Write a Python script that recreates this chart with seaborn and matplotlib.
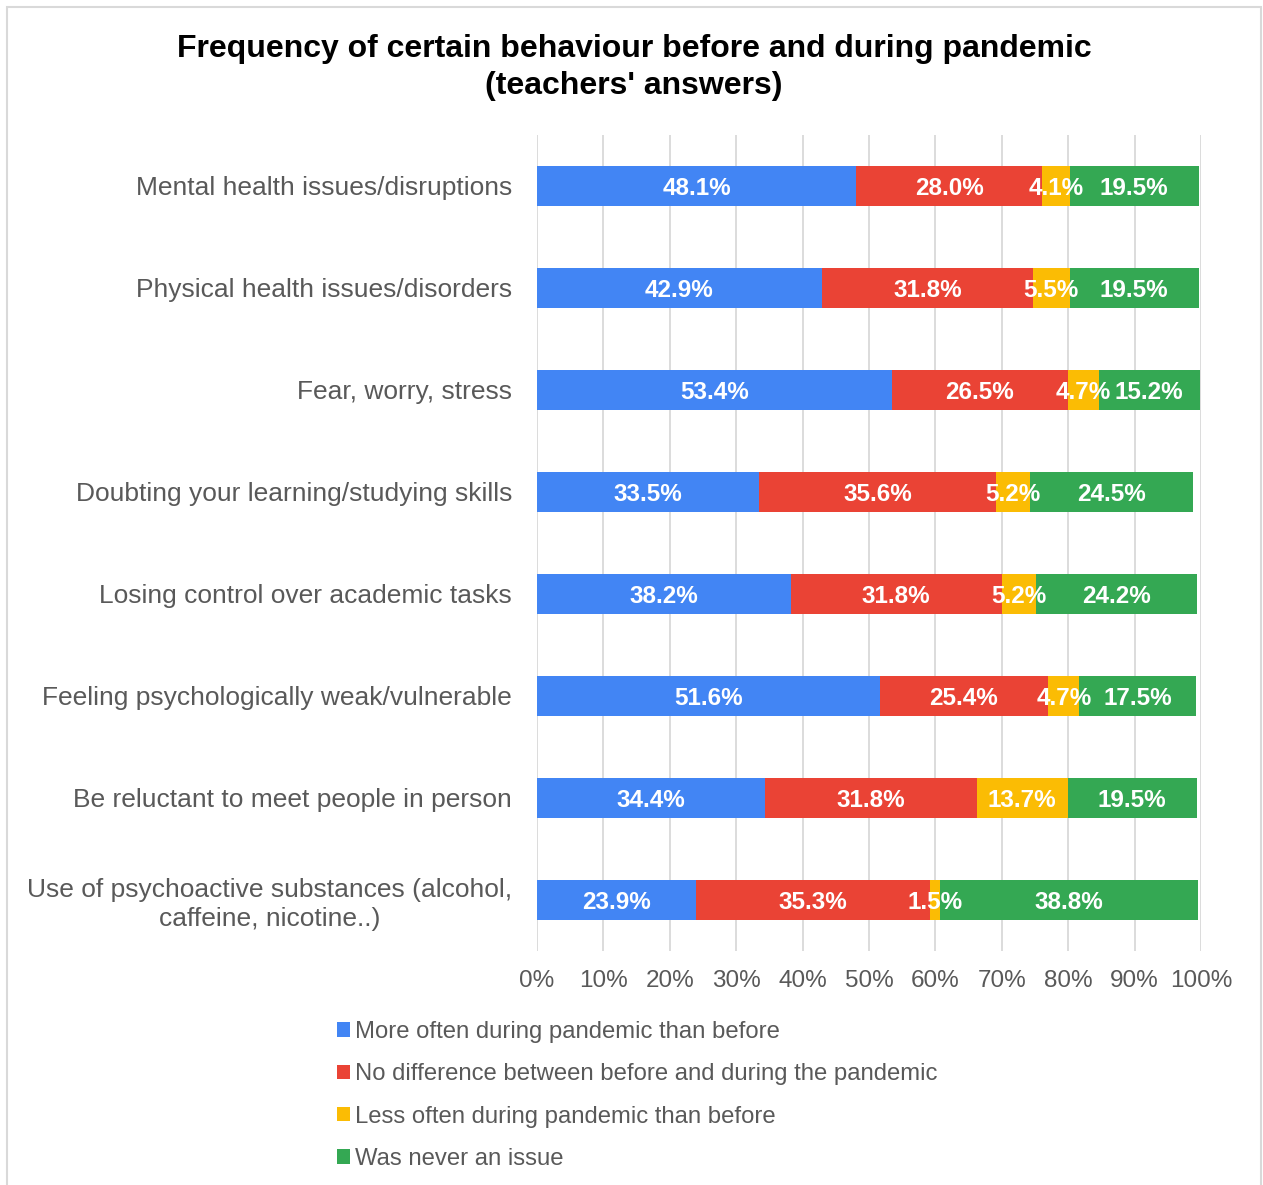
import matplotlib
matplotlib.use("Agg")
import matplotlib.pyplot as plt
import seaborn as sns
import numpy as np
from matplotlib.patches import Patch, Rectangle

categories = [
    "Mental health issues/disruptions",
    "Physical health issues/disorders",
    "Fear, worry, stress",
    "Doubting your learning/studying skills",
    "Losing control over academic tasks",
    "Feeling psychologically weak/vulnerable",
    "Be reluctant to meet people in person",
    "Use of psychoactive substances (alcohol,\ncaffeine, nicotine..)",
]
more_often = [48.1, 42.9, 53.4, 33.5, 38.2, 51.6, 34.4, 23.9]
no_difference = [28.0, 31.8, 26.5, 35.6, 31.8, 25.4, 31.8, 35.3]
less_often = [4.1, 5.5, 4.7, 5.2, 5.2, 4.7, 13.7, 1.5]
never_issue = [19.5, 19.5, 15.2, 24.5, 24.2, 17.5, 19.5, 38.8]
series_names = [
    "More often during pandemic than before",
    "No difference between before and during the pandemic",
    "Less often during pandemic than before",
    "Was never an issue",
]
colors = ["#4285F4", "#EA4335", "#FBBC04", "#34A853"]
xtick_values = list(range(0, 101, 10))
xtick_labels = [f"{v}%" for v in xtick_values]

sns.set_theme(style="white")
plt.rcParams['font.family'] = ['Liberation Sans', 'DejaVu Sans']

W, H = 1263, 1185
fig = plt.figure(figsize=(W / 100, H / 100), dpi=100)
ax = fig.add_axes([537 / W, 1 - 951 / H, 664 / W, 816 / H])

series = [more_often, no_difference, less_often, never_issue]
cum = np.cumsum(np.array(series), axis=0)
for i in reversed(range(4)):
    sns.barplot(x=cum[i], y=categories, orient='h', color=colors[i],
                saturation=1, width=0.4, ax=ax, linewidth=0, edgecolor='none')

for i, vals in enumerate(series):
    for j, v in enumerate(vals):
        center = cum[i][j] - v / 2
        ax.text(center, j, f"{v:.1f}%", ha='center', va='center_baseline',
                color='white', fontweight='bold', fontsize=17.5, zorder=5)

ax.set_xlim(0, 100)
ax.set_ylim(7.5, -0.5)
ax.set_xticks(xtick_values)
ax.set_xticklabels(xtick_labels)
ax.set_xlabel("")
ax.set_ylabel("")
ax.xaxis.grid(True, color='#d9d9d9', linewidth=1.3)
ax.yaxis.grid(False)
ax.set_axisbelow(True)
for s in ax.spines.values():
    s.set_visible(False)
ax.tick_params(axis='x', length=0, pad=14, labelsize=17.5, labelcolor='#595959')
ax.tick_params(axis='y', length=0, pad=18, labelsize=19, labelcolor='#595959')
for lbl in ax.get_yticklabels():
    lbl.set_multialignment('center')
    lbl.set_linespacing(1.25)

fig.text(634 / W, 1 - 34 / H,
         "Frequency of certain behaviour before and during pandemic\n(teachers' answers)",
         ha='center', va='top', fontsize=23, fontweight='bold', color='black',
         linespacing=1.3)

handles = [Patch(facecolor=c, edgecolor='none') for c in colors]
fig.legend(handles, series_names, loc='upper left',
           bbox_to_anchor=(337 / W, 1 - 1021 / H), frameon=False,
           fontsize=17.2, labelcolor='#595959', handlelength=0.55,
           handleheight=0.55, handletextpad=0.22, labelspacing=0.85,
           borderaxespad=0, borderpad=0)

fig.patches.append(Rectangle((7 / W, -0.01), 1254 / W, 1 - 7 / H + 0.01,
                             transform=fig.transFigure, fill=False,
                             edgecolor='#d9d9d9', linewidth=1.5))

fig.savefig("out.png", dpi=100, facecolor='white')
